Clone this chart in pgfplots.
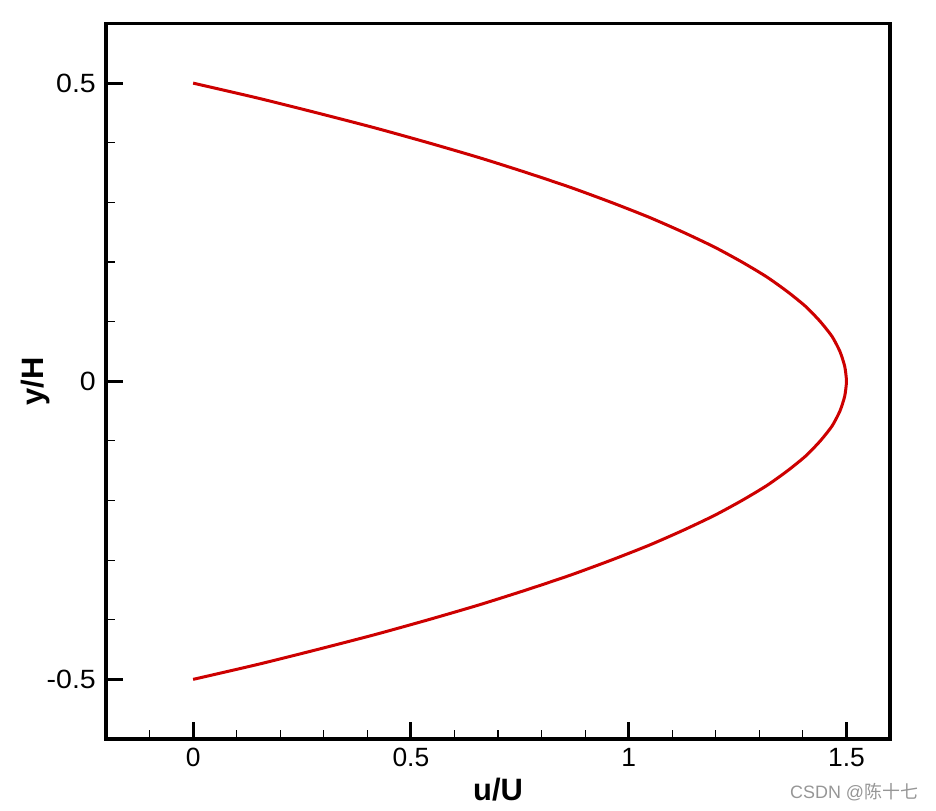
\documentclass[border=0pt]{standalone}
\usepackage{graphicx}
\usepackage{fontspec}
\setmainfont{Liberation Sans}
\newfontfamily\cjk{Noto Sans CJK SC}
\usepackage{pgfplots}
\pgfplotsset{compat=1.18}
\definecolor{curvered}{RGB}{205,0,0}
\definecolor{wmgray}{RGB}{150,150,150}
\begin{document}
\begin{tikzpicture}
\useasboundingbox (0,0) rectangle (936bp,811bp);
\begin{axis}[
  at={(106bp,72bp)}, anchor=south west,
  scale only axis, width=784bp, height=715.5bp,
  xmin=-0.2, xmax=1.6, ymin=-0.6, ymax=0.6,
  axis line style={line width=3.5bp, line cap=rect},
  tick align=inside, tick pos=left,
  xtick={0,0.5,1,1.5},
  xticklabels={0,0.5,1,1.5},
  ytick={-0.5,0,0.5},
  yticklabels={\scalebox{1.08}[1]{-0.5},\scalebox{1.08}[1]{0},\scalebox{1.08}[1]{0.5}},
  minor xtick={-0.1,0.1,0.2,0.3,0.4,0.6,0.7,0.8,0.9,1.1,1.2,1.3,1.4},
  minor ytick={-0.4,-0.3,-0.2,-0.1,0.1,0.2,0.3,0.4},
  major tick length=17bp, minor tick length=9bp,
  major tick style={line width=3bp, black},
  minor tick style={line width=1.2bp, black},
  xticklabel style={font=\fontsize{26.5}{28}\selectfont, anchor=north, inner sep=0pt, yshift=-9bp},
  yticklabel style={font=\fontsize{26.5}{28}\selectfont, anchor=east, inner sep=0pt, xshift=-10bp},
  xlabel={\bfseries u/U},
  ylabel={\bfseries y/H},
  xlabel style={font=\fontsize{31}{32}\selectfont, at={(axis description cs:0.5,-0.0545)}, anchor=north, inner sep=0pt},
  ylabel style={font=\fontsize{31}{32}\selectfont, at={(axis description cs:-0.0714,0.5)}, anchor=south, inner sep=0pt},
]
\addplot[curvered, line width=3bp, line join=round, smooth, tension=0.4] coordinates {
(0,-0.5) (0.148,-0.475) (0.285,-0.45) (0.417,-0.425) (0.54,-0.4) (0.657,-0.375) (0.765,-0.35) (0.867,-0.325) (0.96,-0.3)
(1.047,-0.275) (1.125,-0.25) (1.197,-0.225) (1.26,-0.2) (1.317,-0.175) (1.365,-0.15) (1.407,-0.125) (1.44,-0.1) (1.467,-0.075) (1.485,-0.05) (1.496,-0.025) (1.5,0)
(1.496,0.025) (1.485,0.05) (1.467,0.075) (1.44,0.1) (1.407,0.125) (1.365,0.15) (1.317,0.175) (1.26,0.2) (1.197,0.225) (1.125,0.25)
(1.047,0.275) (0.96,0.3) (0.867,0.325) (0.765,0.35) (0.657,0.375) (0.54,0.4) (0.417,0.425) (0.285,0.45) (0.148,0.475) (0,0.5)
};
\end{axis}
\node[anchor=base west, inner sep=0pt, text=wmgray, font=\fontsize{18}{18}\selectfont] at (790bp,13bp) {CSDN @{\cjk 陈十七}};
\end{tikzpicture}
\end{document}
